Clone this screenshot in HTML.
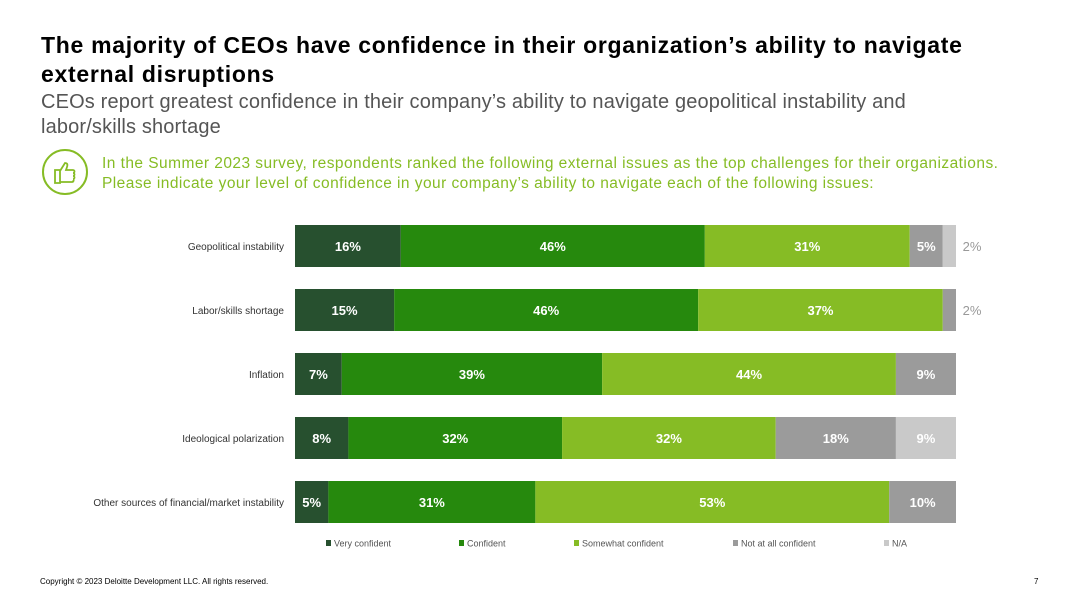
<!DOCTYPE html>
<html><head><meta charset="utf-8"><style>
body{margin:0;width:1080px;height:608px;background:#fff;font-family:"Liberation Sans",sans-serif;position:relative;overflow:hidden}
.t{position:absolute;left:41px;top:31px;font-size:23px;font-weight:bold;color:#000;line-height:29px;width:960px;letter-spacing:0.7px}
.s{position:absolute;left:41px;top:90px;font-size:20px;color:#555;line-height:25px;width:900px;letter-spacing:0.15px}
.q{position:absolute;left:102px;top:154px;font-size:15.5px;color:#86bc25;line-height:20px;width:970px;letter-spacing:0.45px}
.foot{position:absolute;top:577px;font-size:8px;color:#000}
</style></head><body>
<div class="t">The majority of CEOs have confidence in their organization’s ability to navigate<br>external disruptions</div>
<div class="s">CEOs report greatest confidence in their company’s ability to navigate geopolitical instability and<br>labor/skills shortage</div>
<svg style="position:absolute;left:40px;top:148px" width="50" height="50"><circle cx="25" cy="24" r="22" fill="none" stroke="#86bc25" stroke-width="2"/><path d="M15 22h5v13h-5zM20 23l5-8c2 0 3 1 2 4l-1 3h7c2 0 2 3 0 3 2 0 2 3 0 3 2 0 2 3 0 3 1 0 1 3-1 3h-12z" fill="none" stroke="#86bc25" stroke-width="1.8"/></svg>
<div class="q">In the Summer 2023 survey, respondents ranked the following external issues as the top challenges for their organizations.<br>Please indicate your level of confidence in your company’s ability to navigate each of the following issues:</div>
<svg id="c" width="1080" height="608" style="position:absolute;left:0;top:0"></svg>
<div class="foot" style="left:40px">Copyright © 2023 Deloitte Development LLC. All rights reserved.</div>
<div class="foot" style="left:1034px">7</div>
<script>
const categories=["Geopolitical instability","Labor/skills shortage","Inflation","Ideological polarization","Other sources of financial/market instability"];
const seriesNames=["Very confident","Confident","Somewhat confident","Not at all confident","N/A"];
const veryConfident=[16,15,7,8,5];
const confident=[46,46,39,32,31];
const somewhat=[31,37,44,32,53];
const notAtAll=[5,2,9,18,10];
const na=[2,0,0,9,0];
const series=[veryConfident,confident,somewhat,notAtAll,na];
const colors=["#27502f","#26890d","#86bc25","#9b9b9b","#c9c9c9"];
const NS="http://www.w3.org/2000/svg",svg=document.getElementById('c');
const x0=295,W=661,y0=225,step=64,bh=42;
function mk(t,a){const e=document.createElementNS(NS,t);for(const k in a)e.setAttribute(k,a[k]);svg.appendChild(e);return e;}
categories.forEach((cat,i)=>{
 const y=y0+i*step;
 let tot=0;series.forEach(s=>tot+=s[i]);
 const lab=mk('text',{x:284,y:y+bh/2+4,'text-anchor':'end','font-size':10,fill:'#333'});lab.textContent=cat;
 
 
 let acc=0;
 series.forEach((s,j)=>{
  const v=s[i];if(!v)return;
  const x=x0+acc/tot*W,w=v/tot*W;acc+=v;
  const r=mk('rect',{x:x,y:y,width:w,height:bh,fill:colors[j]});
  
  
  const small=v<4;
  const t=mk('text',{x:small?972:x+w/2,y:y+bh/2+5,'text-anchor':'middle','font-size':13,'font-weight':small?'normal':'bold',fill:small?'#999':'#fff'});
  t.textContent=v+'%';
  
  
 });
});
const lx=[326,459,574,733,884];
seriesNames.forEach((n,j)=>{
 const r=mk('rect',{x:lx[j],y:540,width:5,height:6,fill:colors[j]});
 
 
 const t=mk('text',{x:lx[j]+8,y:546.5,'font-size':9,fill:'#555'});t.textContent=n;
 
 
});
</script>
</body></html>
